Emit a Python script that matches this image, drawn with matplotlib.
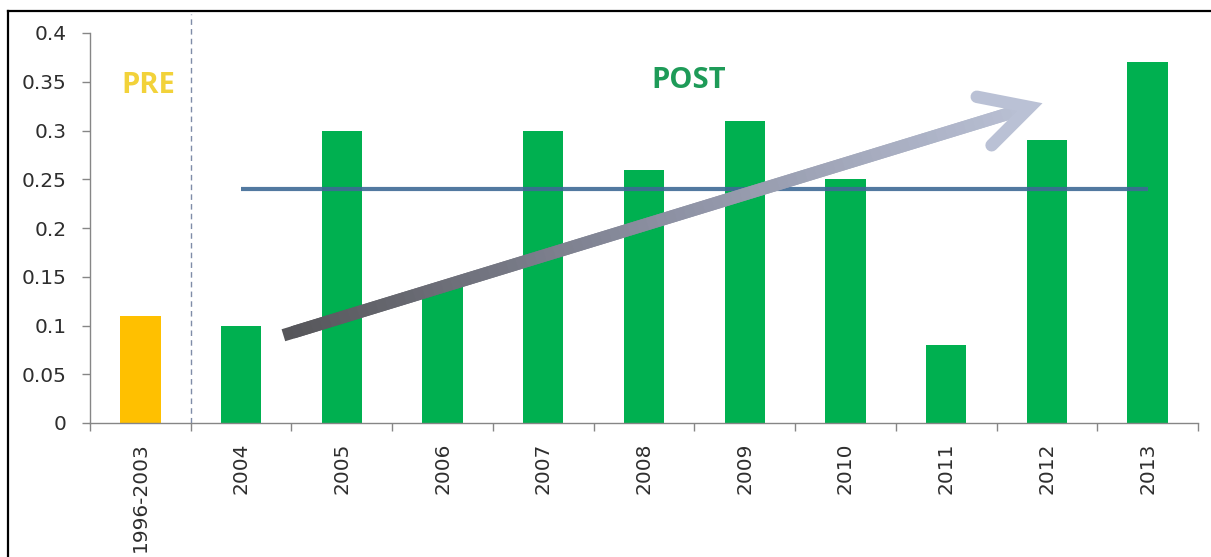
import numpy as np
import matplotlib
matplotlib.use("Agg")
import matplotlib.pyplot as plt
from matplotlib.collections import LineCollection
from matplotlib.colors import LinearSegmentedColormap
from matplotlib.lines import Line2D

# --- data -------------------------------------------------------------
categories = ["1996-2003", "2004", "2005", "2006", "2007", "2008",
              "2009", "2010", "2011", "2012", "2013"]
pre_values = [0.11]
post_values = [0.10, 0.30, 0.14, 0.30, 0.26, 0.31, 0.25, 0.08, 0.29, 0.37]
y_ticks = [0, 0.05, 0.1, 0.15, 0.2, 0.25, 0.3, 0.35, 0.4]
y_tick_labels = ["0", "0.05", "0.1", "0.15", "0.2", "0.25", "0.3", "0.35", "0.4"]

# trend arrow: (category position, value) at tail and head
trend_start = (1.42, 0.090)
trend_end = (8.83, 0.324)

# --- figure -----------------------------------------------------------
W, H = 1211, 557
fig = plt.figure(figsize=(W / 100, H / 100), dpi=100)
fig.patch.set_facecolor("white")

ax = fig.add_axes([90 / W, 1 - 423 / H, (1198 - 90) / W, (423 - 33) / H])
ax.set_facecolor("white")

x = np.arange(len(categories))
values = pre_values + post_values
colors = ["#FFC000"] * len(pre_values) + ["#00B050"] * len(post_values)
ax.bar(x, values, width=0.4, color=colors, zorder=2)

ax.set_xlim(-0.5, len(categories) - 0.5)
ax.set_ylim(0, 0.4)

# mean of the post period
post_x = x[len(pre_values):]
post_mean = float(np.mean(post_values))
ax.plot([post_x[0], post_x[-1]], [post_mean, post_mean], color="#3F6A96",
        lw=3.0, alpha=0.9, solid_capstyle="butt", zorder=3)

# divider between periods
div_x = len(pre_values) - 0.5
ax.plot([div_x, div_x], [0, 0.42], color="#7F8CA8", lw=1.0,
        ls=(0, (4, 3)), clip_on=False, zorder=1)

# period labels
ax.text(0.075, 0.346, "PRE", color="#F2D23A", fontsize=21,
        fontweight="bold", family="Open Sans", ha="center", va="center")
ax.text(5.44, 0.351, "POST", color="#1E9B58", fontsize=21,
        fontweight="bold", family="Open Sans", ha="center", va="center")

# --- gradient trend arrow --------------------------------------------
cmap = LinearSegmentedColormap.from_list(
    "trend", ["#56565A", "#8C90A2", "#BAC1D5"])
p0 = ax.transData.transform(trend_start)
p1 = ax.transData.transform(trend_end)
n = 80
ts = np.linspace(0, 1, n + 1)
pts_px = p0 + np.outer(ts, p1 - p0)
pts = ax.transData.inverted().transform(pts_px)
segs = [[pts[i], pts[min(i + 2, n)]] for i in range(n)]
lc = LineCollection(segs, colors=[cmap(t) for t in ts[:-1]],
                    linewidths=9, capstyle="butt", zorder=4)
ax.add_collection(lc)

d = (p1 - p0) / np.linalg.norm(p1 - p0)
back = -d
arm_len = 54
head_px = []
for ang in (np.deg2rad(28), np.deg2rad(-28)):
    rot = np.array([[np.cos(ang), -np.sin(ang)], [np.sin(ang), np.cos(ang)]])
    head_px.append(p1 + arm_len * rot @ back)
head = ax.transData.inverted().transform(
    np.array([head_px[0], p1, head_px[1]]))
ax.add_line(Line2D(head[:, 0], head[:, 1], color=cmap(1.0), lw=9,
                   solid_capstyle="round", solid_joinstyle="miter",
                   zorder=4))

# --- axes styling -----------------------------------------------------
for side in ("top", "right"):
    ax.spines[side].set_visible(False)
for side in ("left", "bottom"):
    ax.spines[side].set_color("#868686")
    ax.spines[side].set_linewidth(1.0)

ax.set_yticks(y_ticks)
ax.set_yticklabels(y_tick_labels, fontsize=14.5, color="#2E2E2E")
ax.tick_params(axis="y", direction="out", length=6, width=1,
               color="#868686", pad=11)

ax.set_xticks(np.arange(-0.5, len(categories), 1.0), minor=False)
ax.set_xticklabels([])
ax.tick_params(axis="x", which="major", direction="out", length=6,
               width=1, color="#868686")
ax.set_xticks(x, minor=True)
ax.set_xticklabels(categories, minor=True, rotation=90, fontsize=14.5,
                   color="#2E2E2E")
ax.tick_params(axis="x", which="minor", length=0, pad=14)

# outer frame
fig.add_artist(Line2D([8 / W, 1.0], [1 - 11 / H, 1 - 11 / H],
                      color="black", lw=1.6, transform=fig.transFigure))
fig.add_artist(Line2D([8 / W, 8 / W], [0, 1 - 11 / H],
                      color="black", lw=1.6, transform=fig.transFigure))

fig.savefig("out.png", dpi=100, facecolor="white")
